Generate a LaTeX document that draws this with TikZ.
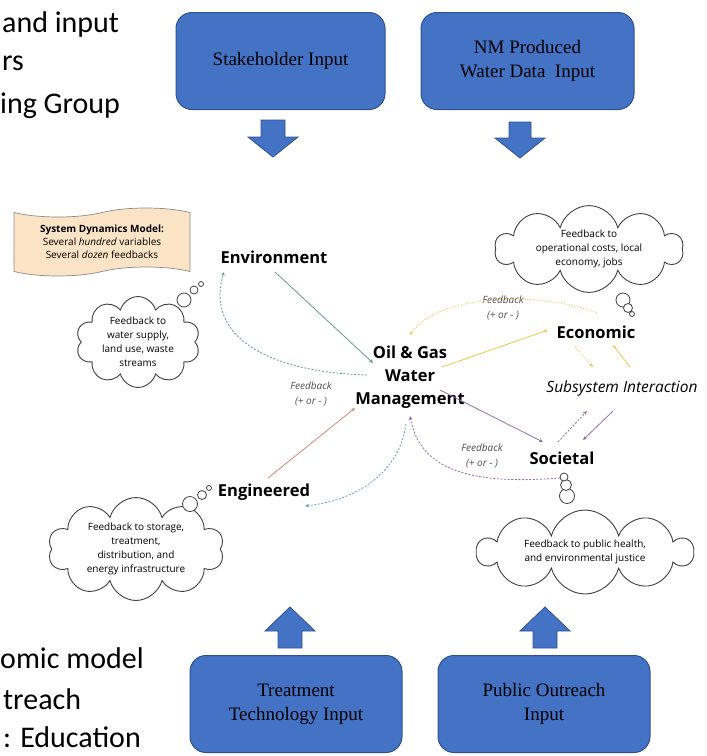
\documentclass[tikz,border=0pt]{standalone}
\usepackage{fontspec}
\setmainfont{Liberation Serif}
\newfontfamily\calfont{Carlito}
\newfontfamily\osfont{Open Sans}
\usetikzlibrary{shapes.symbols,arrows.meta}
\definecolor{boxblue}{HTML}{4472C4}
\definecolor{boxedge}{HTML}{2F528F}
\definecolor{peach}{HTML}{FBE3C6}
\definecolor{envc}{HTML}{5E9E8E}
\definecolor{ecoc}{HTML}{F0C64A}
\definecolor{socc}{HTML}{8F6DB5}
\definecolor{engc}{HTML}{D6857C}
\definecolor{engfb}{HTML}{6AA4AE}
\tikzset{
  bluebox/.style={draw=boxedge, line width=1pt, fill=boxblue, rounded corners=16pt,
    minimum height=97pt, align=center, inner sep=0pt, font=\fontsize{19}{24}\selectfont},
  blockarrow/.style={fill=boxblue, draw=boxedge, line width=0.8pt, line join=miter},
  sidetext/.style={anchor=base west, inner sep=0pt, font=\calfont\fontsize{30}{36}\selectfont},
  mainlbl/.style={inner sep=1pt, align=center, font=\osfont\bfseries\fontsize{16.5}{23}\selectfont},
  fblbl/.style={inner sep=1pt, align=center, text=black!70, font=\osfont\itshape\fontsize{10}{15}\selectfont},
  cloudnode/.style={cloud, cloud puffs=10, cloud ignores aspect, draw=black!75, line width=0.9pt,
    fill=white, align=center, inner sep=0pt, font=\osfont\fontsize{10}{14}\selectfont},
  bubble/.style={circle, draw=black!75, line width=0.8pt, fill=white, inner sep=0pt},
  conn/.style={line width=0.8pt, -{Stealth[length=4pt,width=3.5pt]}},
  fbline/.style={line width=0.8pt, dash pattern=on 2pt off 1.6pt, -{Stealth[length=4pt,width=3.5pt]}},
}
\begin{document}
\begin{tikzpicture}[x=1pt,y=-1pt]
\useasboundingbox (0,0) rectangle (707,756);

% side texts
\node[sidetext] (s1) at (2,32) {and input};
\node[sidetext] (s2) at (2,70) {rs};
\node[sidetext] (s3) at (0,113) {ing Group};
\node[sidetext] (s4) at (0,668) {omic model};
\node[sidetext] (s5) at (3,709) {treach};
\node[sidetext] (s6) at (3,747) {: Education};

% blue boxes
\node[bluebox, minimum width=209pt] (stake) at (280.5,61) {Stakeholder Input};
\node[bluebox, minimum width=213pt] (nmdata) at (527.5,61) {NM Produced\\Water Data\ \ Input};
\node[bluebox, minimum width=212pt] (treat) at (296,704) {Treatment\\Technology Input};
\node[bluebox, minimum width=212pt] (outreach) at (544,704) {Public Outreach\\Input};

% block arrows
\draw[blockarrow, shift={(273,120)}] (-12,0) -- (12,0) -- (12,17) -- (25,17) -- (0,37) -- (-25,17) -- (-12,17) -- cycle;
\draw[blockarrow, shift={(520,122)}] (-11,0) -- (11,0) -- (11,16) -- (25,16) -- (0,36) -- (-25,16) -- (-11,16) -- cycle;
\draw[blockarrow, shift={(290,607)}] (0,0) -- (25,24) -- (12,24) -- (12,41) -- (-12,41) -- (-12,24) -- (-25,24) -- cycle;
\draw[blockarrow, shift={(545,607)}] (0,0) -- (25,24) -- (12,24) -- (12,41) -- (-12,41) -- (-12,24) -- (-25,24) -- cycle;

% banner
\node[tape, draw=black!45, line width=0.7pt, fill=peach, minimum width=176pt, minimum height=68pt,
  tape bend height=9pt, align=center, inner sep=0pt,
  font=\osfont\fontsize{10}{13}\selectfont] (model) at (102,242)
  {\textbf{System Dynamics Model:}\\Several \textit{hundred} variables\\Several \textit{dozen} feedbacks};

% main labels
\node[mainlbl] (env) at (274,257) {Environment};
\node[mainlbl] (oil) at (410,377) {Oil \& Gas\\Water\\Management};
\node[mainlbl] (eco) at (596,332) {Economic};
\node[mainlbl] (soc) at (562,458) {Societal};
\node[mainlbl] (eng) at (264,492) {Engineered};
\node[inner sep=1pt, font=\osfont\itshape\fontsize{15.5}{18}\selectfont] (sub) at (622,388) {Subsystem Interaction};

% feedback labels
\node[fblbl] (fb1) at (311,394) {Feedback\\(+ or - )};
\node[fblbl] (fb2) at (503,308) {Feedback\\(+ or - )};
\node[fblbl] (fb3) at (482,456) {Feedback\\(+ or - )};

% clouds
\node[cloudnode, minimum width=188pt, minimum height=84pt] (c1) at (589,249)
  {Feedback to\\operational costs, local\\economy, jobs};
\node[cloudnode, minimum width=124pt, minimum height=90pt] (c2) at (138,342)
  {Feedback to\\water supply,\\land use, waste\\streams};
\node[cloudnode, minimum width=176pt, minimum height=90pt] (c3) at (136,549)
  {Feedback to storage,\\treatment,\\distribution, and\\energy infrastructure};
\node[cloudnode, minimum width=215pt, minimum height=84pt] (c4) at (585,552)
  {Feedback to public health,\\and environmental justice};

% thought bubbles
\node[bubble, minimum size=14pt] (c1a) at (623,300) {};
\node[bubble, minimum size=9pt] (c1b) at (628,308) {};
\node[bubble, minimum size=5pt] (c1c) at (632,314) {};
\node[bubble, minimum size=14pt] (c2a) at (184,300) {};
\node[bubble, minimum size=8pt] (c2b) at (194,290) {};
\node[bubble, minimum size=5pt] (c2c) at (201,284) {};
\node[bubble, minimum size=15pt] (c3a) at (190,504) {};
\node[bubble, minimum size=9pt] (c3b) at (202,495) {};
\node[bubble, minimum size=5pt] (c3c) at (209,488) {};
\node[bubble, minimum size=15pt] (c4a) at (567,496) {};
\node[bubble, minimum size=11pt] (c4b) at (566,485) {};
\node[bubble, minimum size=8pt] (c4c) at (564,477) {};

% connector end points around the labels
\coordinate (envS) at (275,272);
\coordinate (envSW) at (224,272);
\coordinate (oilNW) at (373,363);
\coordinate (oilW) at (367,375);
\coordinate (oilSW) at (355,408);
\coordinate (oilE) at (442,367);
\coordinate (oilSE) at (440,390);
\coordinate (oilN) at (410,335);
\coordinate (oilS) at (410,416);
\coordinate (oilSb) at (406,424);
\coordinate (ecoW) at (548,330);
\coordinate (ecoNW) at (597,313);
\coordinate (ecoSW) at (575,347);
\coordinate (ecoS) at (613,345);
\coordinate (subNW) at (593,367);
\coordinate (subN) at (630,367);
\coordinate (subSW) at (587,411);
\coordinate (subS) at (613,411);
\coordinate (socNW) at (543,442);
\coordinate (socN) at (558,442);
\coordinate (socNE) at (583,440);
\coordinate (socB) at (560,478);
\coordinate (engN) at (268,478);
\coordinate (engE) at (305,506);

% solid influence lines
\draw[conn, envc] (envS) -- (oilNW);
\draw[conn, ecoc] (oilE) -- (ecoW);
\draw[conn, socc] (oilSE) -- (socNW);
\draw[conn, engc] (engN) -- (oilSW);

% feedback curves
\draw[fbline, envc] (oilW) .. controls (265,372) and (205,335) .. (envSW);
\draw[fbline, ecoc, dash pattern=on 1.2pt off 1.6pt] (ecoNW) .. controls (545,292) and (440,292) .. (oilN);
\draw[fbline, socc] (socB) .. controls (470,485) and (420,470) .. (oilS);
\draw[fbline, engfb] (oilSb) .. controls (400,470) and (360,500) .. (engE);

% subsystem interaction
\draw[fbline, ecoc, dash pattern=on 1.2pt off 1.6pt] (ecoSW) -- (subNW);
\draw[conn, ecoc] (subN) -- (ecoS);
\draw[fbline, socc] (socN) -- (subSW);
\draw[conn, socc] (subS) -- (socNE);
\end{tikzpicture}
\end{document}
